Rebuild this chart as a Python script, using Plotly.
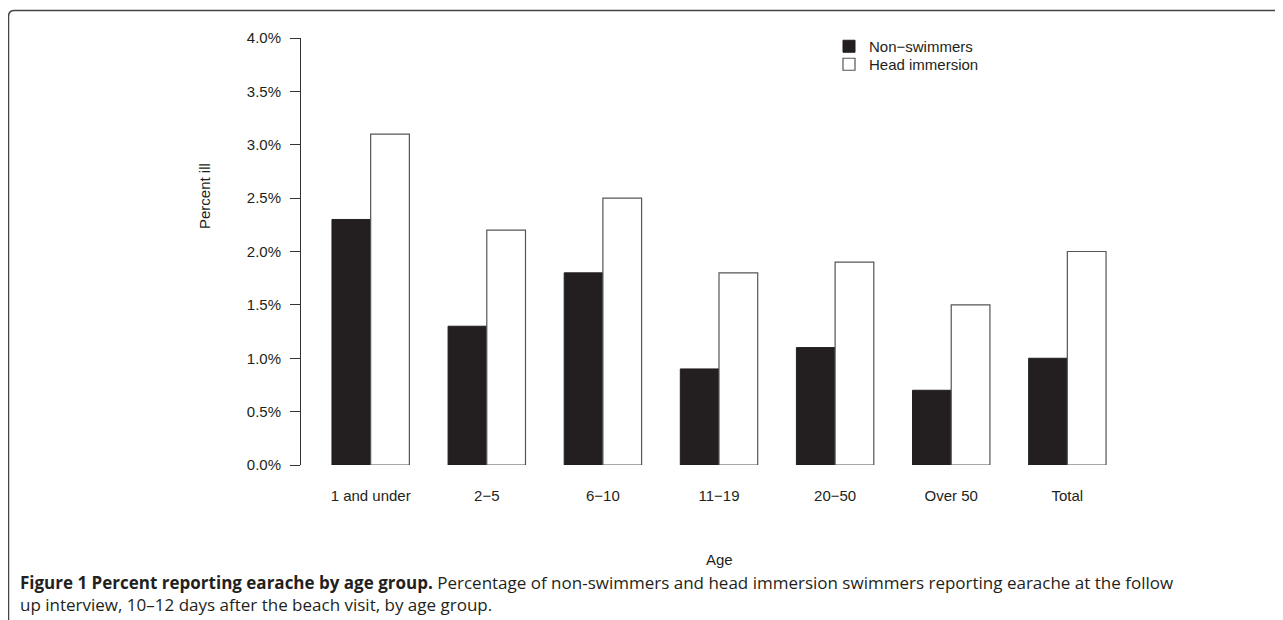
import plotly.graph_objects as go

categories = ["1 and under", "2\u22125", "6\u221210", "11\u221219", "20\u221250", "Over 50", "Total"]
non_swimmers = [2.3, 1.3, 1.8, 0.9, 1.1, 0.7, 1.0]
head_immersion = [3.1, 2.2, 2.5, 1.8, 1.9, 1.5, 2.0]
y_ticks = [0, 0.5, 1.0, 1.5, 2.0, 2.5, 3.0, 3.5, 4.0]
y_ticklabels = ["%.1f%%" % v for v in y_ticks]

OFF = 8  # page body margin
W, H = 1283 - OFF, 620 - OFF
L, T = 301 - OFF, 38 - OFF
R = W - (1137 - OFF)
B = H - (465 - OFF)
PW, PH = W - L - R, H - T - B

def px(x):  # page pixel -> paper
    return (x - OFF - L) / PW

def py(y):
    return (H - B - (y - OFF)) / PH

AX = "#333333"
DARK = "#231f20"
FONT = "Liberation Sans, Arial, Helvetica, sans-serif"
FS = 15

fig = go.Figure()
fig.add_trace(go.Bar(x=categories, y=non_swimmers, name="Non\u2212swimmers", legend="legend",
                     marker=dict(color=DARK, line=dict(color=DARK, width=1))))
fig.add_trace(go.Bar(x=categories, y=head_immersion, name="Head immersion", legend="legend2",
                     marker=dict(color="white", line=dict(color="#555555", width=1.2))))

leg = dict(xanchor="left", yanchor="top", bgcolor="rgba(0,0,0,0)",
           font=dict(size=FS, color=DARK, family=FONT), tracegroupgap=0)

fig.update_layout(
    width=W, height=H,
    margin=dict(l=L, r=R, t=T, b=B, pad=0),
    paper_bgcolor="white", plot_bgcolor="white",
    barmode="group", bargap=1/3, bargroupgap=0,
    font=dict(family=FONT, size=FS, color=DARK),
    showlegend=True,
    legend=dict(x=px(829), y=py(30), **leg),
    legend2=dict(x=px(829), y=py(48), **leg),
    xaxis=dict(range=[-0.6, 6.6], showline=False, showgrid=False, zeroline=False,
               ticks="", ticklabelstandoff=20, tickfont=dict(size=FS, color=DARK)),
    yaxis=dict(range=[0, 4], showline=True, linecolor=AX, linewidth=1,
               showgrid=False, zeroline=False, ticks="outside", ticklen=10,
               tickcolor=AX, tickwidth=1, tickvals=y_ticks, ticktext=y_ticklabels,
               ticklabelstandoff=6, tickfont=dict(size=FS, color=DARK)),
)

# axis titles
fig.add_annotation(text="Age", xref="paper", yref="paper", x=px(719), y=py(559),
                   showarrow=False, xanchor="center", yanchor="middle",
                   font=dict(size=FS, color=DARK, family=FONT))
fig.add_annotation(text="Percent ill", xref="paper", yref="paper", x=px(204), y=py(196),
                   showarrow=False, xanchor="center", yanchor="middle", textangle=-90,
                   font=dict(size=FS, color=DARK, family=FONT))

# caption
CAP_FONT = "Open Sans, Noto Sans, sans-serif"
CFS = 17
fig.add_annotation(text="<b>Figure 1 Percent reporting earache by age group.</b> Percentage of non-swimmers and head immersion swimmers reporting earache at the follow",
                   xref="paper", yref="paper", x=px(18), y=py(582), showarrow=False,
                   xanchor="left", yanchor="middle", align="left",
                   font=dict(size=CFS, color=DARK, family=CAP_FONT))
fig.add_annotation(text="up interview, 10\u201312 days after the beach visit, by age group.",
                   xref="paper", yref="paper", x=px(18), y=py(604), showarrow=False,
                   xanchor="left", yanchor="middle", align="left",
                   font=dict(size=CFS, color=DARK, family=CAP_FONT))

# frame with rounded top-left corner
x0, y0, x1, y1, r = 8.5, 10.5, 1300, 640, 6
path = (f"M {px(x0)},{py(y1)} L {px(x0)},{py(y0 + r)} "
        f"Q {px(x0)},{py(y0)} {px(x0 + r)},{py(y0)} L {px(x1)},{py(y0)}")
fig.add_shape(type="path", path=path, xref="paper", yref="paper",
              line=dict(color="#444444", width=1.5))

fig.write_html("out.html")
